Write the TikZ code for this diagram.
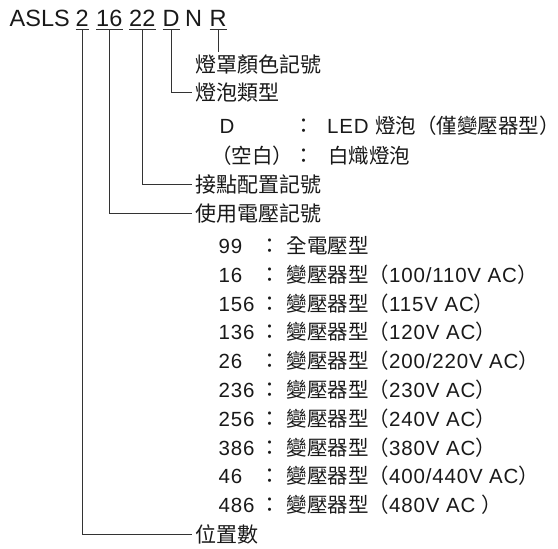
\documentclass[tikz,border=0pt]{standalone}
\usepackage{fontspec}
\setmainfont{Liberation Sans}
\newfontfamily\lat{Liberation Sans}[LetterSpace=4]
\newfontfamily\cjk{Noto Sans CJK TC}
\newfontfamily\cjkp{Noto Sans CJK JP}
\newcommand\zh[1]{{\cjk #1}}
\newcommand\lpar{{\cjkp （}}
\newcommand\rpar{{\cjkp ）}}
\newcommand\fcolon{{\cjkp ：}}
\begin{document}
\begin{tikzpicture}[x=1pt,y=-1pt,
  every node/.style={inner sep=0pt, text=black!90},
  hd/.style={font=\fontsize{23.5}{28}\selectfont, anchor=base west, inner xsep=0pt, inner ysep=2.8pt},
  lbl/.style={anchor=west, inner xsep=4pt, inner ysep=0pt, font=\fontsize{21}{25}\selectfont},
  item/.style={anchor=base west, font=\fontsize{20.5}{25}\selectfont\lat},
  col/.style={anchor=base, font=\fontsize{21}{25}\selectfont},
  conn/.style={draw=black!80, line width=0.9pt}]
\useasboundingbox (0,0) rectangle (558,549);

% header
\node[hd] (tA) at (9.5,26.5) {ASLS};
\node[hd] (t2) at (75.5,26.5) {2};
\node[hd] (t16) at (96,26.5) {16};
\node[hd] (t22) at (129,26.5) {22};
\node[hd] (tD) at (162.5,26.5) {D};
\node[hd] (tN) at (185,26.5) {N};
\node[hd] (tR) at (209.5,26.5) {R};

\foreach \t in {t2,t16,t22,tD,tR}
  \draw[conn] (\t.south west) -- (\t.south east);

% labels
\node[lbl] (lblR) at (191.5,64.5) {\zh{燈罩顏色記號}};
\node[lbl] (lblD) at (191.5,92.5) {\zh{燈泡類型}};
\node[lbl] (lbl22) at (191.5,184) {\zh{接點配置記號}};
\node[lbl] (lbl16) at (191.5,213.3) {\zh{使用電壓記號}};
\node[lbl] (lbl2) at (191.5,534) {\zh{位置數}};

% connectors
\coordinate (Rend) at ([yshift=-22pt]tR.south);
\draw[conn] (tR.south) -- (Rend);
\draw[conn] (tD.south) |- (lblD.west);
\draw[conn] (t22.south) |- (lbl22.west);
\draw[conn] (t16.south) |- (lbl16.west);
\draw[conn] (t2.south) |- (lbl2.west);

% bulb type entries
\node[item] (kD) at (219.5,133.3) {D};
\node[col] (cD) at (304,133.3) {\fcolon};
\node[item] (vD) at (327,133.3) {LED \zh{燈泡}\lpar\zh{僅變壓器型}\rpar};
\node[item] (kB) at (211,163.5) {\lpar\zh{空白}\rpar};
\node[col] (cB) at (304,163.5) {\fcolon};
\node[item] (vB) at (328,163.5) {\zh{白熾燈泡}};

% voltage entries
\node[item] (k1) at (218.5,253.5) {99};
\node[col] (c1) at (270,253.5) {\fcolon};
\node[item] (v1) at (286.5,253.5) {\zh{全電壓型}};

\node[item] (k2) at (218.5,282.3) {16};
\node[col] (c2) at (270,282.3) {\fcolon};
\node[item] (v2) at (286.5,282.3) {\zh{變壓器型}\lpar 100/110V AC\rpar};

\node[item] (k3) at (218.5,311.1) {156};
\node[col] (c3) at (270,311.1) {\fcolon};
\node[item] (v3) at (286.5,311.1) {\zh{變壓器型}\lpar 115V AC\rpar};

\node[item] (k4) at (218.5,339.9) {136};
\node[col] (c4) at (270,339.9) {\fcolon};
\node[item] (v4) at (286.5,339.9) {\zh{變壓器型}\lpar 120V AC\rpar};

\node[item] (k5) at (218.5,368.7) {26};
\node[col] (c5) at (270,368.7) {\fcolon};
\node[item] (v5) at (286.5,368.7) {\zh{變壓器型}\lpar 200/220V AC\rpar};

\node[item] (k6) at (218.5,397.5) {236};
\node[col] (c6) at (270,397.5) {\fcolon};
\node[item] (v6) at (286.5,397.5) {\zh{變壓器型}\lpar 230V AC\rpar};

\node[item] (k7) at (218.5,426.3) {256};
\node[col] (c7) at (270,426.3) {\fcolon};
\node[item] (v7) at (286.5,426.3) {\zh{變壓器型}\lpar 240V AC\rpar};

\node[item] (k8) at (218.5,455.1) {386};
\node[col] (c8) at (270,455.1) {\fcolon};
\node[item] (v8) at (286.5,455.1) {\zh{變壓器型}\lpar 380V AC\rpar};

\node[item] (k9) at (218.5,483.9) {46};
\node[col] (c9) at (270,483.9) {\fcolon};
\node[item] (v9) at (286.5,483.9) {\zh{變壓器型}\lpar 400/440V AC\rpar};

\node[item] (k10) at (218.5,512.7) {486};
\node[col] (c10) at (270,512.7) {\fcolon};
\node[item] (v10) at (286.5,512.7) {\zh{變壓器型}\lpar 480V AC \rpar};
\end{tikzpicture}
\end{document}
